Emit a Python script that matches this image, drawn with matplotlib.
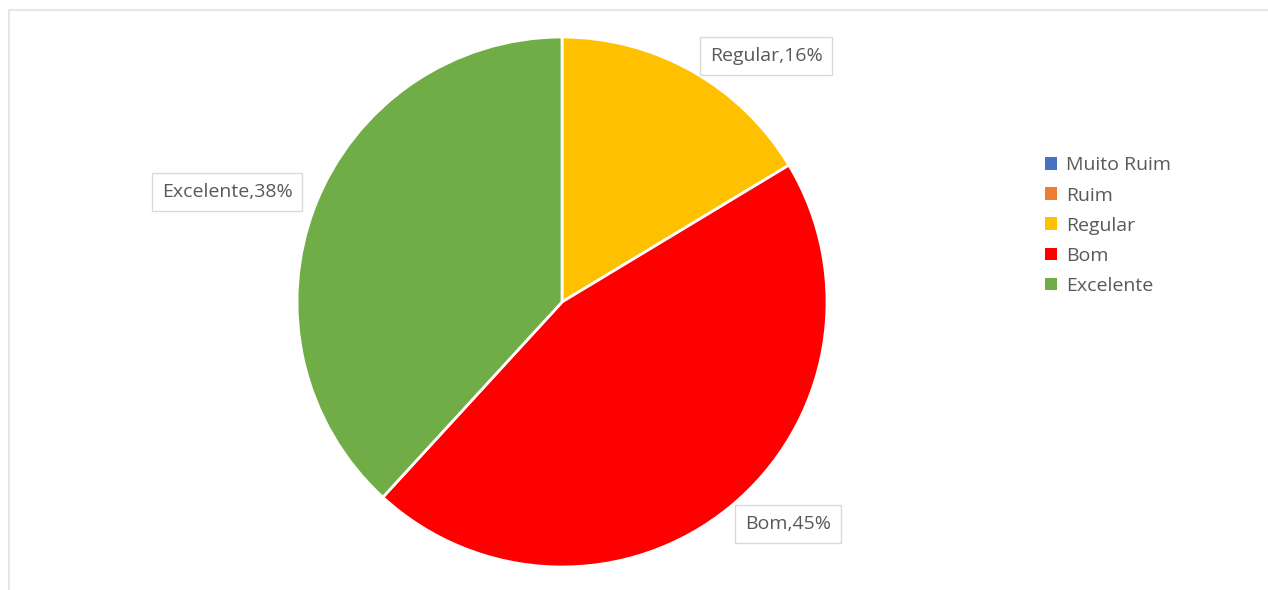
import matplotlib
matplotlib.use("Agg")
import matplotlib.pyplot as plt
from matplotlib.patches import Patch
from matplotlib.lines import Line2D

categories = ["Muito Ruim", "Ruim", "Regular", "Bom", "Excelente"]
counts = [0, 0, 9, 25, 21]
colors = ["#4472C4", "#ED7D31", "#FFC000", "#FF0000", "#70AD47"]

# label box centres in pie data coords (radius = 1)
label_pos = {"Regular": (0.77, 0.928), "Bom": (0.853, -0.838), "Excelente": (-1.264, 0.415)}

_TEXT = "#595959"
_FONT = ["Open Sans", "DejaVu Sans"]

W, H = 1268, 590
fig = plt.figure(figsize=(W / 100, H / 100), dpi=100)
fig.patch.set_facecolor("white")

# faint chart-area border on top / left
fig.add_artist(Line2D([9 / W, 1], [1 - 9.5 / H, 1 - 9.5 / H], color="#E6E6E6", lw=1.5))
fig.add_artist(Line2D([9 / W, 9 / W], [0, 1 - 9.5 / H], color="#E6E6E6", lw=1.5))

cx, cy, r = 562, 302, 265
ax = fig.add_axes([(cx - r) / W, (H - cy - r) / H, 2 * r / W, 2 * r / H])

vals = [v for v in counts if v > 0]
cols = [c for v, c in zip(counts, colors) if v > 0]
names = [n for v, n in zip(counts, categories) if v > 0]
ax.pie(vals, colors=cols, startangle=90, counterclock=False, radius=1,
       wedgeprops=dict(edgecolor="white", linewidth=2))
ax.set_xlim(-1, 1)
ax.set_ylim(-1, 1)
ax.set_aspect("equal")
ax.axis("off")

total = sum(counts)
for n, v in zip(names, vals):
    x, y = label_pos[n]
    ax.text(x, y, f"{n},{v / total * 100:.0f}%", ha="center", va="center",
            fontsize=14, color=_TEXT, family=_FONT, clip_on=False,
            bbox=dict(boxstyle="square,pad=0.5", facecolor="white",
                      edgecolor="#D9D9D9", linewidth=1))

handles = [Patch(facecolor=c, edgecolor="none") for c in colors]
fig.legend(handles, categories, loc="upper left",
           bbox_to_anchor=(1027 / W, 1 - 139 / H), frameon=False,
           handlelength=0.62, handleheight=0.62, handletextpad=0.5,
           labelspacing=0.62, prop=dict(family=_FONT, size=14),
           labelcolor=_TEXT)

fig.savefig("out.png", dpi=100, facecolor="white")
